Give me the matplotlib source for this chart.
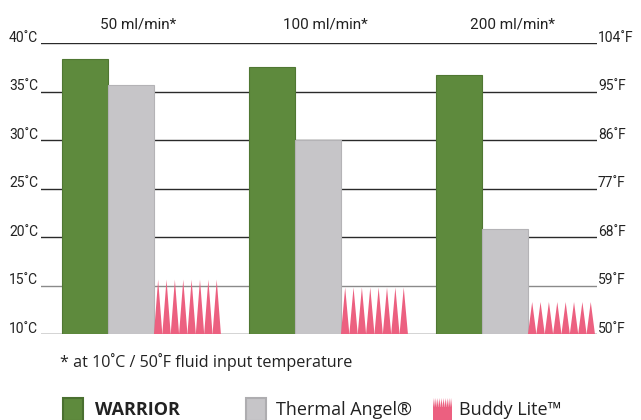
import matplotlib.pyplot as plt
from matplotlib.patches import Rectangle, Polygon
import numpy as np

plt.rcParams['font.family'] = ['Open Sans', 'DejaVu Sans']
narrow = ['Liberation Sans Narrow', 'Roboto', 'DejaVu Sans']

groups = ["50 ml/min*", "100 ml/min*", "200 ml/min*"]
warrior = [38.4, 37.5, 36.7]
thermal_angel = [35.7, 30.0, 20.8]
buddy_lite = [15.6, 14.8, 13.3]

c_ticks = [10, 15, 20, 25, 30, 35, 40]
f_ticks = [50, 59, 68, 77, 86, 95, 104]

green = '#5e8a3d'
grey = '#c6c5c8'
pink = '#ec6080'

W = 641
H = 420

fig = plt.figure(figsize=(6.41, 4.2), dpi=100)
# axes box in pixels: x 41..597, y 43 (40C) .. 334 (10C)
ax = fig.add_axes([41 / W, 1 - 334 / H, (597 - 41) / W, (334 - 43) / H])
ax.set_xlim(-0.112, 2.861)
ax.set_ylim(10, 40)
for s in ax.spines.values():
    s.set_visible(False)
ax.set_xticks([])
ax.set_yticks([])

# gridlines
for t in c_ticks:
    col = '#2a2a2a'
    if t == 15:
        col = '#8a8a8a'
    ax.axhline(t, color=col, lw=1.0, zorder=1)

bw = 0.246   # green / grey bar width (group units)
pw = 0.358   # pink bar width
nspikes = 8

for i in range(3):
    x0 = i
    ax.bar(x0, warrior[i] - 10, bottom=10, width=bw, align='edge',
           color=green, edgecolor='#4f7732', lw=0.8, zorder=3)
    ax.bar(x0 + bw, thermal_angel[i] - 10, bottom=10, width=bw, align='edge',
           color=grey, edgecolor='#b4b3b6', lw=0.8, zorder=3)
    # Buddy Lite drawn as a row of spikes
    xp = x0 + 2 * bw
    step = pw / nspikes
    for k in range(nspikes):
        xs = [xp + k * step, xp + (k + 0.5) * step, xp + (k + 1) * step]
        ys = [10, buddy_lite[i], 10]
        ax.fill(xs, ys, color=pink, lw=0, zorder=3)
    # group title
    ax.text(x0 + (2 * bw + pw) / 2 - 0.016, 41.45, groups[i],
            ha='center', va='baseline', fontsize=11, color='#222222',
            family=narrow, clip_on=False)

# left (C) labels
for t in c_ticks:
    ax.text(-0.128, t + 0.15, "%d˚C" % t, ha='right', va='baseline',
            fontsize=10, color='#222222', family=narrow, clip_on=False)

# right (F) labels
for c, f in zip(c_ticks, f_ticks):
    ax.text(2.866, c + 0.15, "%d˚F" % f, ha='left', va='baseline',
            fontsize=10, color='#222222', family=narrow, clip_on=False)

# footnote
fig.text(60 / W, 1 - 367 / H, "* at 10˚C / 50˚F fluid input temperature",
         ha='left', va='baseline', fontsize=11.6, color='#222222')

# legend
def square(x, color, edge):
    fig.patches.append(Rectangle((x / W, 1 - 421 / H), 20 / W, 23 / H,
                                 transform=fig.transFigure, facecolor=color,
                                 edgecolor=edge, lw=1.5))

ly = 1 - 415 / H
square(63, green, '#4a7030')
fig.text(95 / W, ly, "WARRIOR", ha='left', va='baseline',
         fontsize=13, fontweight='bold', color='#222222')
square(246, grey, '#aeadb0')
fig.text(276 / W, ly, "Thermal Angel®", ha='left', va='baseline',
         fontsize=13, color='#222222')
# buddy lite legend symbol
fig.patches.append(Rectangle((433 / W, 1 - 421 / H), 19 / W, 14 / H,
                             transform=fig.transFigure, facecolor=pink, lw=0))
for k in range(10):
    xs = 433 + k * 1.9
    fig.patches.append(Polygon([(xs / W, 1 - 407 / H), ((xs + 0.95) / W, 1 - 398 / H),
                                ((xs + 1.9) / W, 1 - 407 / H)],
                               transform=fig.transFigure, facecolor=pink, lw=0))
fig.text(459 / W, ly, "Buddy Lite™", ha='left', va='baseline',
         fontsize=13, color='#222222')

fig.savefig('out.png', dpi=100)
